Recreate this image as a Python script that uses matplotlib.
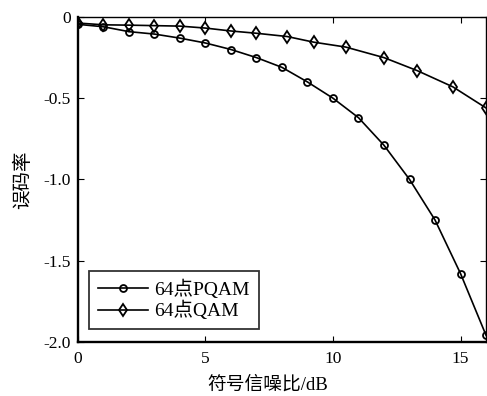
import matplotlib
matplotlib.use("Agg")
import matplotlib.pyplot as plt
from matplotlib.ticker import FixedLocator, FixedFormatter

plt.rcParams['font.family'] = ['Liberation Serif', 'Noto Sans CJK SC', 'DejaVu Sans']
plt.rcParams['axes.unicode_minus'] = False

# Bit error rate curves (log scale values) versus symbol SNR
snr_pqam = [0, 1, 2, 3, 4, 5, 6, 7, 8, 9, 10, 11, 12, 13, 14, 15, 16]
ber_pqam = [-0.045, -0.06, -0.09, -0.105, -0.13, -0.16, -0.20, -0.25, -0.31,
            -0.40, -0.50, -0.62, -0.79, -1.00, -1.25, -1.58, -1.96]

snr_qam = [0, 1, 2, 3, 4, 5, 6, 7, 8.2, 9.25, 10.5, 12, 13.3, 14.7, 16]
ber_qam = [-0.037, -0.048, -0.05, -0.053, -0.056, -0.068, -0.086, -0.10, -0.12,
           -0.155, -0.185, -0.25, -0.33, -0.43, -0.56]

labels = ['64点PQAM', '64点QAM']
xticks = [0, 5, 10, 15]
yticks = [0, -0.5, -1.0, -1.5, -2.0]
ytick_labels = ['0', '-0.5', '-1.0', '-1.5', '-2.0']

fig = plt.figure(figsize=(4.87, 3.96), dpi=100)
ax = fig.add_axes([0.160, 0.137, 0.838, 0.820])

ax.plot(snr_pqam, ber_pqam, color='black', lw=1.2, marker='o', ms=5,
        mfc='none', mec='black', mew=1.3, label=labels[0])
ax.plot(snr_qam, ber_qam, color='black', lw=1.2, marker='d', ms=6.5,
        mfc='none', mec='black', mew=1.3, label=labels[1])

ax.set_xlim(0, 16)
ax.set_ylim(-2.0, 0)
ax.xaxis.set_major_locator(FixedLocator(xticks))
ax.yaxis.set_major_locator(FixedLocator(yticks))
ax.yaxis.set_major_formatter(FixedFormatter(ytick_labels))
ax.tick_params(direction='in', top=True, right=True, length=4, width=0.8,
               labelsize=12.5, colors='black')
ax.tick_params(axis='x', pad=7)
ax.tick_params(axis='y', pad=5)

for side in ['left', 'bottom']:
    ax.spines[side].set_linewidth(1.7)
for side in ['top', 'right']:
    ax.spines[side].set_linewidth(1.0)

ax.set_xlabel('符号信噪比/dB', fontsize=13.5)
ax.set_ylabel('误码率', fontsize=14)
ax.xaxis.set_label_coords(0.466, -0.105)
ax.yaxis.set_label_coords(-0.113, 0.5)

leg = ax.legend(loc='lower left', bbox_to_anchor=(0.027, 0.039), fontsize=14,
                handlelength=2.6, frameon=True, fancybox=False, edgecolor='black',
                borderpad=0.45, labelspacing=0.12, handletextpad=0.32,
                borderaxespad=0)
leg.get_frame().set_linewidth(1.3)

fig.savefig('out.png', dpi=100)
